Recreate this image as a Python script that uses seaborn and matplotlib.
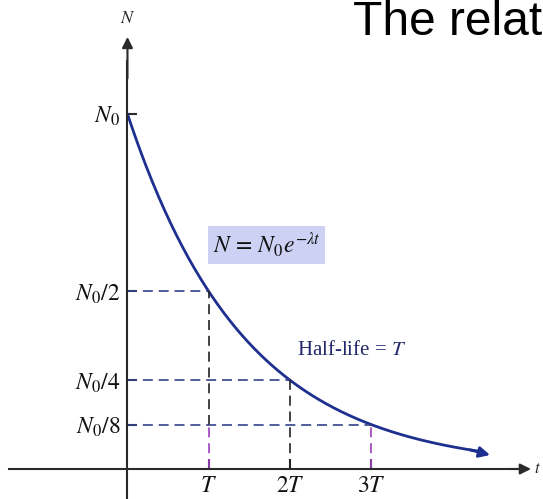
import numpy as np
import pandas as pd
import matplotlib
matplotlib.use("Agg")
import matplotlib.pyplot as plt
import seaborn as sns

# Half-life marks (in units of T) and the surviving fraction at each (in units of N0)
half_life_marks = [1, 2, 3]
surviving_fraction = [1 / 2, 1 / 4, 1 / 8]
x_tick_labels = ["$T$", "$2T$", "$3T$"]
y_levels = [1, 1 / 2, 1 / 4, 1 / 8]
y_tick_labels = ["$N_0$", "$N_0/2$", "$N_0/4$", "$N_0/8$"]
t_end = 4.46  # curve runs out to about 4.5 half-lives

sns.set_theme(style="white")
plt.rcParams["mathtext.fontset"] = "stix"
plt.rcParams["font.family"] = ["Liberation Serif", "DejaVu Serif"]

fig = plt.figure(figsize=(5.43, 4.99), dpi=100)
ax = fig.add_axes([0, 0, 1, 1])
ax.set_xlim(-1.568, 5.111)
ax.set_ylim(-0.0845, 1.321)

# Decay law N = N0 e^{-lambda t} with lambda = ln2 / T
lam = np.log(2)
t = np.linspace(0, t_end - 0.08, 300)
curve = pd.DataFrame({"t": t, "N": np.exp(-lam * t)})
blue = "#1d2f8f"
sns.lineplot(data=curve, x="t", y="N", ax=ax, color=blue, lw=2.0)
ax.annotate("", xy=(t_end, np.exp(-lam * t_end) - 0.006),
            xytext=(t_end - 0.25, np.exp(-lam * (t_end - 0.25))),
            arrowprops=dict(arrowstyle="-|>", color=blue, lw=2.0,
                            mutation_scale=16, shrinkA=0, shrinkB=0))

# Dashed guides from the axis to each half-life point
dash = (0, (6, 3.5))
lower = min(surviving_fraction)
for tm, frac in zip(half_life_marks, surviving_fraction):
    ax.plot([0, tm], [frac, frac], ls=dash, color="#34428a", lw=1.2)
    if tm == 2:
        ax.plot([tm, tm], [0, frac], ls=dash, color="#222222", lw=1.2)
    else:
        if frac > lower:
            ax.plot([tm, tm], [lower, frac], ls=dash, color="#222222", lw=1.2)
        ax.plot([tm, tm], [0, lower], ls=dash, color="#a040c0", lw=1.2)

# Axes through the origin
axis_color = "#2a2a2a"
for side in ("top", "right"):
    ax.spines[side].set_visible(False)
ax.spines["left"].set_position(("data", 0))
ax.spines["bottom"].set_position(("data", 0))
ax.spines["left"].set_bounds(-0.1, 1.15)
ax.spines["bottom"].set_bounds(-1.457, 4.8)
for side in ("left", "bottom"):
    ax.spines[side].set_color(axis_color)
    ax.spines[side].set_linewidth(1.5)
ax.annotate("", xy=(4.963, 0), xytext=(4.7, 0),
            arrowprops=dict(arrowstyle="-|>", color=axis_color, lw=1.5,
                            mutation_scale=16, shrinkA=0, shrinkB=0))
ax.annotate("", xy=(0, 1.217), xytext=(0, 1.1),
            arrowprops=dict(arrowstyle="-|>", color=axis_color, lw=1.5,
                            mutation_scale=16, shrinkA=0, shrinkB=0))

ax.set_xticks(half_life_marks)
ax.set_xticklabels(x_tick_labels, fontsize=17)
ax.set_yticks(y_levels)
ax.set_yticklabels(y_tick_labels, fontsize=17)
ax.tick_params(axis="both", direction="in", length=7, width=1.5,
               color=axis_color, labelcolor="#111111", pad=5,
               left=True, bottom=True)
ax.set_xlabel("")
ax.set_ylabel("")

ax.text(0, 1.27, "$N$", ha="center", va="center", fontsize=13)
ax.text(5.0, 0, "$t$", ha="left", va="center", fontsize=12)

# Formula and half-life labels
ax.text(1.71, 0.631, r"$N\,=\,N_0e^{-\lambda t}$", ha="center", va="center",
        fontsize=17, color="#111111",
        bbox=dict(boxstyle="square,pad=0.2", facecolor="#cdd2f5",
                  edgecolor="none"))
ax.text(2.08, 0.335, "Half-life = $T$", ha="left", va="center",
        fontsize=15, color="#23296a")

fig.text(353 / 543, 1 - 35 / 499, "The relat", ha="left", va="baseline",
         fontsize=34.5, color="black", family="Liberation Sans")

fig.savefig("out.png", dpi=100)
